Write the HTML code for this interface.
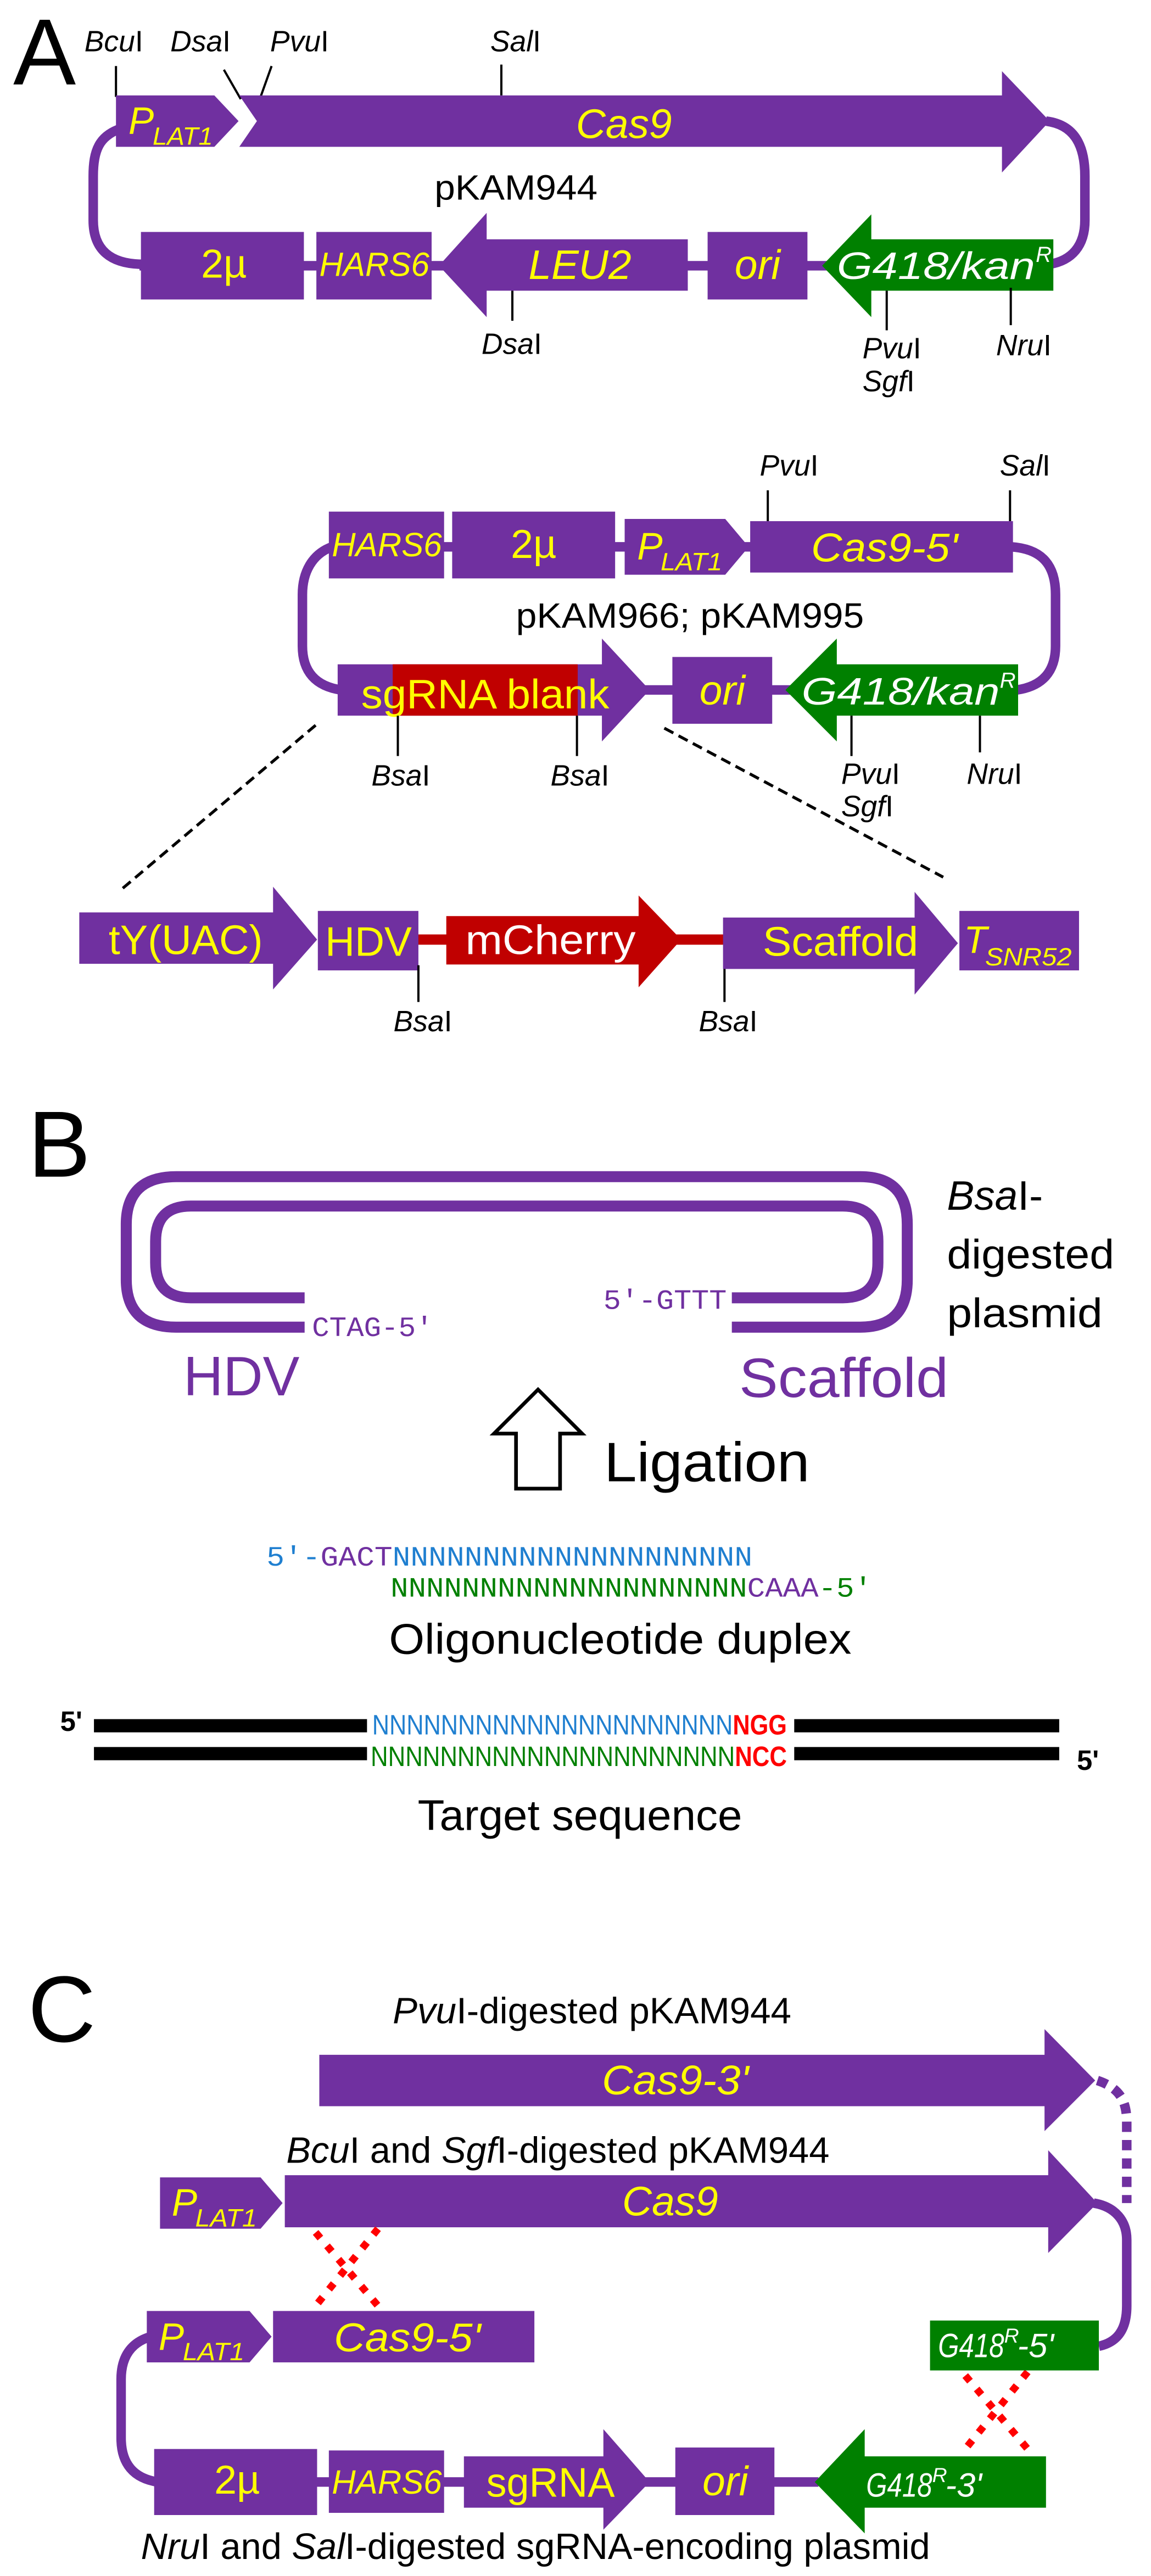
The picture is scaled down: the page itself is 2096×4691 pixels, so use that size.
<!DOCTYPE html>
<html><head><meta charset="utf-8"><style>
html,body{margin:0;padding:0;background:#fff;}
svg{display:block;}
text{font-family:"Liberation Sans","DejaVu Sans",sans-serif;}
.mono{font-family:"Liberation Mono","DejaVu Sans Mono",monospace;}
.i{font-style:italic;}
.y{fill:#FFFF00;}
.w{fill:#FFFFFF;}
.p{fill:#7030A0;}
</style></head><body>
<svg width="2096" height="4691" viewBox="0 0 2096 4691" xmlns="http://www.w3.org/2000/svg">
<rect width="2096" height="4691" fill="#fff"/>
<!-- Panel A -->
<g transform="scale(1.3367)">
<text x="18" y="115" font-size="128">A</text>
<g font-size="40" fill="#000">
<text x="115" y="70"><tspan class="i">Bcu</tspan>I</text>
<text x="232" y="70"><tspan class="i">Dsa</tspan>I</text>
<text x="368" y="70"><tspan class="i">Pvu</tspan>I</text>
<text x="668" y="70"><tspan class="i">Sal</tspan>I</text>
</g>
<g stroke="#000" stroke-width="3" fill="none">
<line x1="158" y1="90" x2="158" y2="132"/>
<line x1="305" y1="95" x2="328" y2="135"/>
<line x1="370" y1="90" x2="355" y2="132"/>
<line x1="683" y1="88" x2="683" y2="130"/>
</g>
<!-- loop -->
<g stroke="#7030A0" stroke-width="13" fill="none">
<path d="M165,175 C135,185 127,205 127,240 L127,300 C127,340 150,360 195,360"/>
<path d="M1425,165 C1465,170 1478,200 1478,240 L1478,300 C1478,335 1460,355 1430,360"/>
<line x1="190" y1="362" x2="1435" y2="362"/>
</g>
<polygon class="p" points="158,130 292,130 325,165 292,200 158,200"/>
<polygon class="p" points="326,130 1365,130 1365,97 1430,165 1365,235 1365,200 326,200 350,165"/>
<text x="175" y="182" font-size="52" class="i y">P</text><text x="208" y="197" font-size="34" class="i y" textLength="82" lengthAdjust="spacingAndGlyphs">LAT1</text>
<text x="850" y="188" font-size="56" class="i y" text-anchor="middle">Cas9</text>
<text x="703" y="272" font-size="48" text-anchor="middle" textLength="222" lengthAdjust="spacingAndGlyphs">pKAM944</text>
<rect class="p" x="192" y="316" width="222" height="92"/>
<rect class="p" x="431" y="316" width="157" height="92"/>
<polygon class="p" points="598,362 663,290 663,326 937,326 937,396 663,396 663,432"/>
<rect class="p" x="964" y="316" width="136" height="92"/>
<polygon fill="#008000" points="1120,362 1187,292 1187,326 1435,326 1435,396 1187,396 1187,432"/>
<text x="305" y="378" font-size="55" class="y" text-anchor="middle">2µ</text>
<text x="510" y="376" font-size="46" class="i y" text-anchor="middle" textLength="150" lengthAdjust="spacingAndGlyphs">HARS6</text>
<text x="790" y="380" font-size="56" class="i y" text-anchor="middle">LEU2</text>
<text x="1032" y="380" font-size="56" class="i y" text-anchor="middle">ori</text>
<text x="1140" y="380" font-size="52" class="i w" textLength="270" lengthAdjust="spacingAndGlyphs">G418/kan</text><text x="1411" y="357" font-size="30" class="i w">R</text>
<g stroke="#000" stroke-width="3">
<line x1="698" y1="396" x2="698" y2="437"/>
<line x1="1208" y1="396" x2="1208" y2="450"/>
<line x1="1377" y1="392" x2="1377" y2="443"/>
</g>
<g font-size="40">
<text x="656" y="482"><tspan class="i">Dsa</tspan>I</text>
<text x="1175" y="488"><tspan class="i">Pvu</tspan>I</text>
<text x="1175" y="533"><tspan class="i">Sgf</tspan>I</text>
<text x="1357" y="484"><tspan class="i">Nru</tspan>I</text>
<text x="1035" y="648"><tspan class="i">Pvu</tspan>I</text>
<text x="1362" y="648"><tspan class="i">Sal</tspan>I</text>
</g>
<g stroke="#000" stroke-width="3">
<line x1="1046" y1="668" x2="1046" y2="710"/>
<line x1="1376" y1="668" x2="1376" y2="710"/>
</g>
<!-- plasmid 2 -->
<g stroke="#7030A0" stroke-width="13" fill="none">
<path d="M452,745 C425,755 412,780 412,810 L412,880 C412,915 430,935 465,940"/>
<path d="M1378,745 C1420,748 1438,770 1438,810 L1438,880 C1438,915 1420,935 1385,940"/>
<line x1="600" y1="745" x2="1025" y2="745"/>
<line x1="460" y1="940" x2="1387" y2="940"/>
</g>
<rect class="p" x="448" y="697" width="157" height="91"/>
<rect class="p" x="616" y="697" width="222" height="91"/>
<polygon class="p" points="851,707 988,707 1020,745 988,783 851,783"/>
<rect class="p" x="1022" y="710" width="358" height="70"/>
<text x="527" y="758" font-size="46" class="i y" text-anchor="middle" textLength="150" lengthAdjust="spacingAndGlyphs">HARS6</text>
<text x="727" y="760" font-size="55" class="y" text-anchor="middle">2µ</text>
<text x="868" y="762" font-size="52" class="i y">P</text><text x="900" y="777" font-size="34" class="i y" textLength="84" lengthAdjust="spacingAndGlyphs">LAT1</text>
<text x="1205" y="765" font-size="55" class="i y" text-anchor="middle" textLength="200" lengthAdjust="spacingAndGlyphs">Cas9-5'</text>
<text x="940" y="855" font-size="48" text-anchor="middle" textLength="474" lengthAdjust="spacingAndGlyphs">pKAM966; pKAM995</text>
<polygon class="p" points="460,905 820,905 820,870 885,940 820,1010 820,975 460,975"/>
<rect fill="#C00000" x="535" y="905" width="252" height="70"/>
<rect class="p" x="916" y="895" width="136" height="91"/>
<polygon fill="#008000" points="1070,940 1140,870 1140,905 1387,905 1387,975 1140,975 1140,1010"/>
<text x="492" y="965" font-size="56" class="y" textLength="338" lengthAdjust="spacingAndGlyphs">sgRNA blank</text>
<text x="984" y="960" font-size="56" class="i y" text-anchor="middle">ori</text>
<text x="1092" y="960" font-size="52" class="i w" textLength="270" lengthAdjust="spacingAndGlyphs">G418/kan</text><text x="1362" y="937" font-size="30" class="i w">R</text>
<g stroke="#000" stroke-width="3">
<line x1="542" y1="975" x2="542" y2="1030"/>
<line x1="786" y1="975" x2="786" y2="1030"/>
<line x1="1160" y1="975" x2="1160" y2="1030"/>
<line x1="1335" y1="975" x2="1335" y2="1025"/>
</g>
<g font-size="40">
<text x="506" y="1070"><tspan class="i">Bsa</tspan>I</text>
<text x="750" y="1070"><tspan class="i">Bsa</tspan>I</text>
<text x="1146" y="1068"><tspan class="i">Pvu</tspan>I</text>
<text x="1146" y="1112"><tspan class="i">Sgf</tspan>I</text>
<text x="1317" y="1068"><tspan class="i">Nru</tspan>I</text>
<text x="536" y="1405"><tspan class="i">Bsa</tspan>I</text>
<text x="952" y="1405"><tspan class="i">Bsa</tspan>I</text>
</g>
<g stroke="#000" stroke-width="4" stroke-dasharray="14,8">
<line x1="430" y1="988" x2="165" y2="1212"/>
<line x1="905" y1="992" x2="1285" y2="1195"/>
</g>
<!-- expanded -->
<line x1="565" y1="1280" x2="990" y2="1280" stroke="#C00000" stroke-width="14"/>
<polygon class="p" points="108,1243 372,1243 372,1208 432,1280 372,1348 372,1313 108,1313"/>
<rect class="p" x="433" y="1241" width="137" height="81"/>
<polygon fill="#C00000" points="608,1248 870,1248 870,1220 928,1280 870,1345 870,1314 608,1314"/>
<polygon class="p" points="985,1250 1246,1250 1246,1215 1305,1285 1246,1355 1246,1320 985,1320"/>
<rect class="p" x="1307" y="1241" width="163" height="81"/>
<text x="253" y="1300" font-size="56" class="y" text-anchor="middle" textLength="210" lengthAdjust="spacingAndGlyphs">tY(UAC)</text>
<text x="502" y="1302" font-size="56" class="y" text-anchor="middle" textLength="118" lengthAdjust="spacingAndGlyphs">HDV</text>
<text x="750" y="1300" font-size="56" class="w" text-anchor="middle" textLength="232" lengthAdjust="spacingAndGlyphs">mCherry</text>
<text x="1145" y="1302" font-size="56" class="y" text-anchor="middle" textLength="212" lengthAdjust="spacingAndGlyphs">Scaffold</text>
<text x="1313" y="1298" font-size="52" class="i y">T</text><text x="1342" y="1315" font-size="34" class="i y" textLength="118" lengthAdjust="spacingAndGlyphs">SNR52</text>
<g stroke="#000" stroke-width="3">
<line x1="570" y1="1315" x2="570" y2="1365"/>
<line x1="987" y1="1320" x2="987" y2="1365"/>
</g>
<text x="38" y="1603" font-size="128">B</text>
</g>
<!-- Panel B -->
<g transform="translate(0,2096) scale(1.3367)">
<g stroke="#7030A0" stroke-width="15" fill="none">
<path d="M415,240 L240,240 Q172,240 172,175 L172,100 Q172,35 240,35 L1172,35 Q1236,35 1236,100 L1236,175 Q1236,240 1172,240 L997,240"/>
<path d="M415,200 L260,200 Q212,200 212,152 L212,123 Q212,75 260,75 L1148,75 Q1196,75 1196,123 L1196,152 Q1196,200 1148,200 L997,200"/>
</g>
<text x="425" y="252" font-size="38" class="mono p" textLength="165" lengthAdjust="spacingAndGlyphs">CTAG-5'</text>
<text x="822" y="215" font-size="38" class="mono p" textLength="168" lengthAdjust="spacingAndGlyphs">5'-GTTT</text>
<text x="250" y="333" font-size="76" class="p" textLength="158" lengthAdjust="spacingAndGlyphs">HDV</text>
<text x="1007" y="335" font-size="76" class="p" textLength="285" lengthAdjust="spacingAndGlyphs">Scaffold</text>
<g font-size="56">
<text x="1290" y="80"><tspan class="i">Bsa</tspan>I-</text>
<text x="1290" y="160" textLength="228" lengthAdjust="spacingAndGlyphs">digested</text>
<text x="1290" y="240" textLength="212" lengthAdjust="spacingAndGlyphs">plasmid</text>
</g>
<polygon points="703,460 703,385 673,385 733,325 793,385 763,385 763,460" fill="#fff" stroke="#000" stroke-width="5"/>
<text x="823" y="450" font-size="76" textLength="280" lengthAdjust="spacingAndGlyphs">Ligation</text>
<text x="363" y="565" font-size="38" class="mono" textLength="662" lengthAdjust="spacingAndGlyphs"><tspan fill="#1F7FD0">5'-</tspan><tspan fill="#7030A0">GACT</tspan><tspan fill="#1F7FD0">NNNNNNNNNNNNNNNNNNNN</tspan></text>
<text x="532" y="607" font-size="38" class="mono" textLength="656" lengthAdjust="spacingAndGlyphs"><tspan fill="#008000">NNNNNNNNNNNNNNNNNNNN</tspan><tspan fill="#7030A0">CAAA</tspan><tspan fill="#008000">-5'</tspan></text>
<text x="845" y="685" font-size="58" text-anchor="middle" textLength="630" lengthAdjust="spacingAndGlyphs">Oligonucleotide duplex</text>
<rect x="128" y="774" width="372" height="18" fill="#000"/>
<rect x="1082" y="774" width="361" height="18" fill="#000"/>
<rect x="128" y="812" width="372" height="18" fill="#000"/>
<rect x="1082" y="812" width="361" height="18" fill="#000"/>
<text x="82" y="790" font-size="38" font-weight="bold">5'</text>
<text x="1467" y="843" font-size="38" font-weight="bold">5'</text>
<text x="507" y="795" font-size="38" textLength="565" lengthAdjust="spacingAndGlyphs"><tspan fill="#1F7FD0">NNNNNNNNNNNNNNNNNNNNN</tspan><tspan fill="#FF0000" font-weight="bold">NGG</tspan></text>
<text x="505" y="838" font-size="38" textLength="567" lengthAdjust="spacingAndGlyphs"><tspan fill="#008000">NNNNNNNNNNNNNNNNNNNNN</tspan><tspan fill="#FF0000" font-weight="bold">NCC</tspan></text>
<text x="790" y="925" font-size="58" text-anchor="middle" textLength="442" lengthAdjust="spacingAndGlyphs">Target sequence</text>
</g>
<!-- Panel C -->
<g transform="translate(0,2595) scale(1.3367)">
<text x="38" y="840" font-size="128">C</text>
<text x="535" y="815" font-size="50" textLength="543" lengthAdjust="spacingAndGlyphs"><tspan class="i">Pvu</tspan>I-digested pKAM944</text>
<polygon class="p" points="435,858 1423,858 1423,823 1492,893 1423,962 1423,928 435,928"/>
<text x="920" y="912" font-size="56" class="i y" text-anchor="middle" textLength="200" lengthAdjust="spacingAndGlyphs">Cas9-3'</text>
<path d="M1495,893 C1525,903 1535,920 1535,950 L1535,1060" stroke="#7030A0" stroke-width="13" fill="none" stroke-dasharray="14,11"/>
<text x="390" y="1005" font-size="50" textLength="740" lengthAdjust="spacingAndGlyphs"><tspan class="i">Bcu</tspan>I and <tspan class="i">Sgf</tspan>I-digested pKAM944</text>
<path d="M1490,1060 C1520,1065 1535,1085 1535,1110 L1535,1200 C1535,1235 1520,1250 1497,1255" stroke="#7030A0" stroke-width="13" fill="none"/>
<polygon class="p" points="218,1025 355,1025 385,1060 355,1095 218,1095"/>
<polygon class="p" points="388,1022 1428,1022 1428,988 1495,1060 1428,1128 1428,1093 388,1093"/>
<text x="234" y="1077" font-size="52" class="i y">P</text><text x="266" y="1092" font-size="34" class="i y" textLength="84" lengthAdjust="spacingAndGlyphs">LAT1</text>
<text x="913" y="1077" font-size="56" class="i y" text-anchor="middle">Cas9</text>
<g stroke="#FF0000" stroke-width="10" stroke-dasharray="10,14">
<line x1="430" y1="1100" x2="515" y2="1200"/>
<line x1="515" y1="1095" x2="430" y2="1200"/>
<line x1="1315" y1="1295" x2="1400" y2="1395"/>
<line x1="1400" y1="1290" x2="1315" y2="1395"/>
</g>
<path d="M205,1242 C178,1250 165,1270 165,1300 L165,1380 C165,1415 182,1435 215,1440" stroke="#7030A0" stroke-width="13" fill="none"/>
<line x1="210" y1="1440" x2="1115" y2="1440" stroke="#7030A0" stroke-width="13"/>
<polygon class="p" points="200,1207 340,1207 370,1242 340,1277 200,1277"/>
<rect class="p" x="372" y="1207" width="356" height="70"/>
<text x="216" y="1260" font-size="52" class="i y">P</text><text x="249" y="1274" font-size="34" class="i y" textLength="84" lengthAdjust="spacingAndGlyphs">LAT1</text>
<text x="555" y="1262" font-size="55" class="i y" text-anchor="middle" textLength="200" lengthAdjust="spacingAndGlyphs">Cas9-5'</text>
<rect fill="#008000" x="1267" y="1220" width="230" height="68"/>
<text x="1278" y="1270" font-size="46" class="i w" textLength="90" lengthAdjust="spacingAndGlyphs">G418</text><text x="1368" y="1250" font-size="28" class="i w">R</text><text x="1386" y="1270" font-size="46" class="i w">-5'</text>
<rect class="p" x="210" y="1395" width="222" height="90"/>
<rect class="p" x="448" y="1397" width="157" height="85"/>
<polygon class="p" points="632,1405 822,1405 822,1368 885,1440 822,1505 822,1475 632,1475"/>
<rect class="p" x="920" y="1393" width="135" height="92"/>
<polygon fill="#008000" points="1110,1440 1178,1368 1178,1405 1425,1405 1425,1475 1178,1475 1178,1510"/>
<text x="323" y="1456" font-size="55" class="y" text-anchor="middle">2µ</text>
<text x="527" y="1456" font-size="46" class="i y" text-anchor="middle" textLength="150" lengthAdjust="spacingAndGlyphs">HARS6</text>
<text x="750" y="1460" font-size="56" class="y" text-anchor="middle" textLength="175" lengthAdjust="spacingAndGlyphs">sgRNA</text>
<text x="988" y="1458" font-size="56" class="i y" text-anchor="middle">ori</text>
<text x="1180" y="1460" font-size="46" class="i w" textLength="90" lengthAdjust="spacingAndGlyphs">G418</text><text x="1270" y="1440" font-size="28" class="i w">R</text><text x="1288" y="1460" font-size="46" class="i w">-3'</text>
<text x="192" y="1545" font-size="50" textLength="1075" lengthAdjust="spacingAndGlyphs"><tspan class="i">Nru</tspan>I and <tspan class="i">Sal</tspan>I-digested sgRNA-encoding plasmid</text>
</g>
</svg>
</body></html>
